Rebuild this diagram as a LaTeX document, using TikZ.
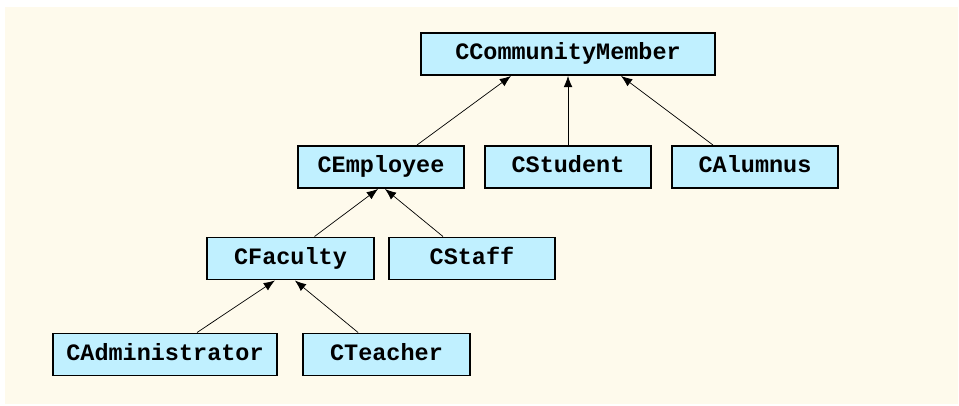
\documentclass[tikz,border=0pt]{standalone}
\usepackage{fontspec}
\setmonofont{Liberation Mono}
\usetikzlibrary{arrows.meta}
\definecolor{paper}{RGB}{254,250,236}
\definecolor{classblue}{RGB}{192,240,255}
\tikzset{
  cls/.style={draw,line width=1.4pt,fill=classblue,minimum width=4.15cm,
    minimum height=1.05cm,inner sep=0pt,text height=11pt,text depth=3pt,
    font=\fontsize{16.7}{20}\selectfont\ttfamily\bfseries},
  inherit/.style={line width=0.5pt,-{Latex[length=0.28cm,width=0.22cm]}}
}
\begin{document}
\begin{tikzpicture}[x=0.025cm,y=-0.025cm]
  \useasboundingbox (0,0) rectangle (959,406);
  \fill[paper] (5,7) rectangle (958,404);
  % classes
  \node[cls,minimum width=7.35cm] (member) at (568,54) {CCommunityMember};
  \node[cls] (employee) at (381,167) {CEmployee};
  \node[cls] (student) at (568,167) {CStudent};
  \node[cls] (alumnus) at (755,167) {CAlumnus};
  \node[cls] (faculty) at (290.5,258.5) {CFaculty};
  \node[cls] (staff) at (472,258.5) {CStaff};
  \node[cls,minimum width=5.6cm] (admin) at (165,354.5) {CAdministrator};
  \node[cls] (teacher) at (386.5,354.5) {CTeacher};
  % inheritance
  \draw[inherit] ([xshift=0.9cm]employee.north) -- ([xshift=-1.425cm]member.south);
  \draw[inherit] (student.north) -- (member.south);
  \draw[inherit] ([xshift=-1.05cm]alumnus.north) -- ([xshift=1.325cm]member.south);
  \draw[inherit] ([xshift=0.6cm]faculty.north) -- ([xshift=-0.075cm]employee.south);
  \draw[inherit] ([xshift=-0.725cm]staff.north) -- ([xshift=0.1cm]employee.south);
  \draw[inherit] ([xshift=0.8cm]admin.north) -- ([xshift=-0.39cm]faculty.south);
  \draw[inherit] ([xshift=-0.71cm]teacher.north) -- ([xshift=0.11cm]faculty.south);
\end{tikzpicture}
\end{document}
